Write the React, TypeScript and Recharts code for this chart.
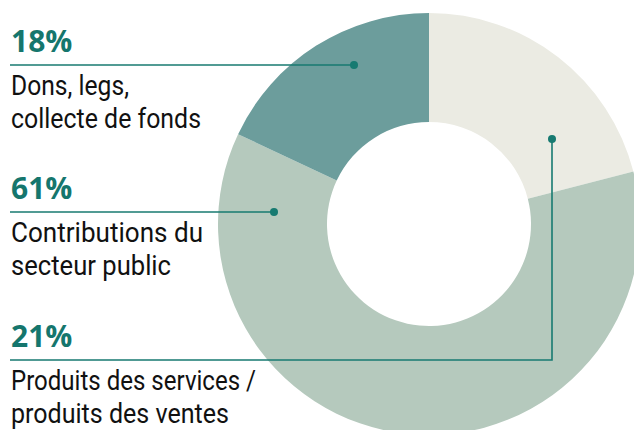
import React from 'react';
import { PieChart, Pie, Cell } from 'recharts';

// ---- data ----
const categories = [
  'Produits des services / produits des ventes',
  'Contributions du secteur public',
  'Dons, legs, collecte de fonds',
];
const shares = [21, 61, 18];
const labelLines = [
  ['Produits des services /', 'produits des ventes'],
  ['Contributions du', 'secteur public'],
  ['Dons, legs,', 'collecte de fonds'],
];

// ---- styles / layout ----
const sliceColors = ['#ebebe3', '#b5c9bd', '#6c9d9c'];
const accent = '#15766d';
const lineColor = '#177a71';
const LEFT_X = 10;
const PCT_FONT = '"Open Sans", "Noto Sans", sans-serif';
const TXT_FONT = 'Roboto, "Liberation Sans", sans-serif';

// annotation layout, relative to the pie centre
const ANNOT = [
  { lineDy: 136, dotDx: 123, dotDy: -85, widths: [245, 218] },
  { lineDy: -12, dotDx: -155, dotDy: -12, widths: [192, 160] },
  { lineDy: -159, dotDx: -75, dotDy: -159, widths: [118, 190] },
];

const data = categories.map((name, i) => ({ name, value: shares[i] }));

const renderLabel = (props: any) => {
  const { cx, cy, index, value } = props;
  const a = ANNOT[index];
  const lineY = cy + a.lineDy;
  const dotX = cx + a.dotDx;
  const dotY = cy + a.dotDy;
  const pts =
    dotY === lineY
      ? `${LEFT_X},${lineY} ${dotX},${lineY}`
      : `${LEFT_X},${lineY} ${dotX},${lineY} ${dotX},${dotY}`;
  return (
    <g key={`lbl-${index}`}>
      <polyline points={pts} fill="none" stroke={lineColor} strokeWidth={1.6} />
      <circle cx={dotX} cy={dotY} r={4} fill={lineColor} />
      <text
        x={LEFT_X + 1}
        y={lineY - 13}
        fontFamily={PCT_FONT}
        fontWeight={700}
        fontSize={30}
        fill={accent}
      >
        {`${value}%`}
      </text>
      {labelLines[index].map((t, j) => (
        <text
          key={j}
          x={LEFT_X + 1}
          y={lineY + 30 + j * 33}
          fontFamily={TXT_FONT}
          fontSize={28}
          fill="#111"
          textLength={a.widths[j]}
          lengthAdjust="spacingAndGlyphs"
        >
          {t}
        </text>
      ))}
    </g>
  );
};

export default function App() {
  return (
    <div>
      <style>{'body{margin:0;background:#fff}'}</style>
      <PieChart width={634} height={430} margin={{ top: 0, right: 0, bottom: 0, left: 0 }}>
        <Pie
          data={data}
          dataKey="value"
          nameKey="name"
          cx={429}
          cy={224}
          innerRadius={102}
          outerRadius={211}
          startAngle={90}
          endAngle={-270}
          stroke="none"
          isAnimationActive={false}
          label={renderLabel}
          labelLine={false}
        >
          {data.map((d, i) => (
            <Cell key={d.name} fill={sliceColors[i]} />
          ))}
        </Pie>
      </PieChart>
    </div>
  );
}
